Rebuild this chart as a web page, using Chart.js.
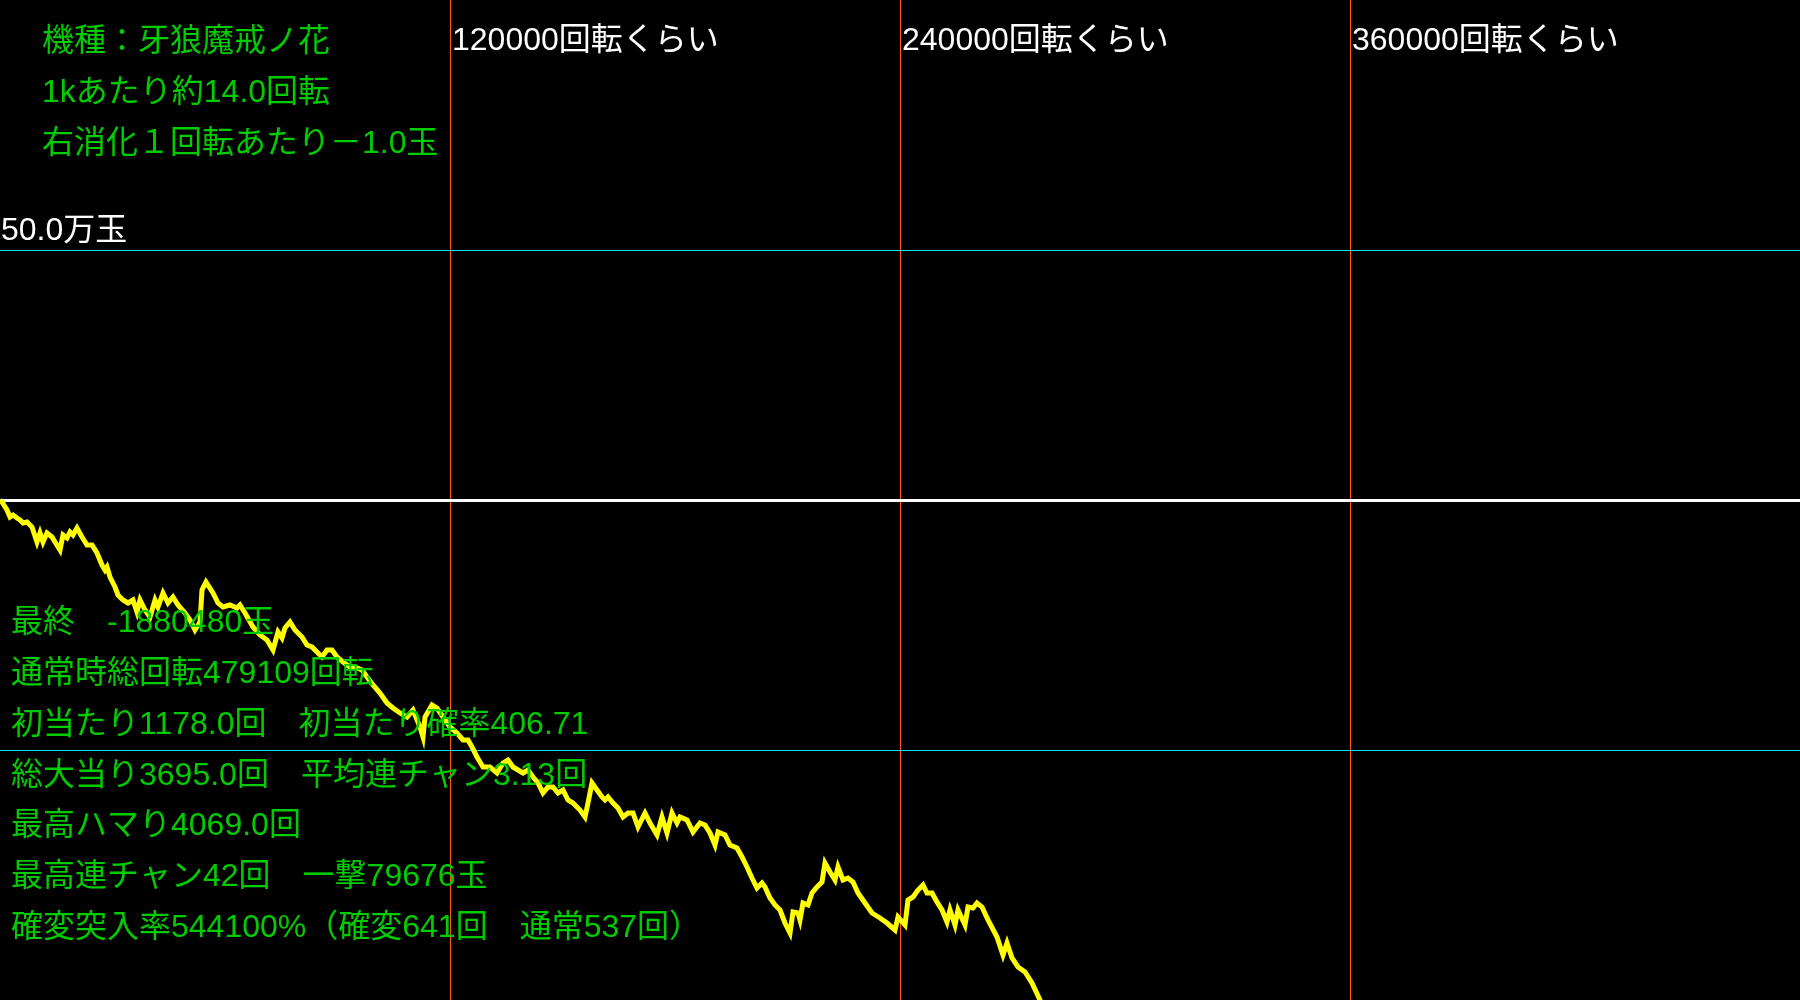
<!DOCTYPE html>
<html lang="ja">
<head>
<meta charset="utf-8">
<title>牙狼魔戒ノ花 シミュレーション</title>
<script src="https://cdn.jsdelivr.net/npm/chart.js@4.4.1/dist/chart.umd.min.js"></script>
<style>
  html, body { margin: 0; padding: 0; background: #000; overflow: hidden; }
  #chart { display: block; }
</style>
</head>
<body>
<canvas id="chart" width="1800" height="1000"></canvas>
<script>
// 通常時回転数 (x) と 差玉 (y)
const spins = [
  0, 533, 1867, 2667, 3467, 4533, 5333, 6133, 7200, 8533,
  9867, 10667, 11467, 12533, 13867, 14667, 16000, 16800, 17867, 18667,
  19467, 20533, 21867, 23200, 24533, 25867, 27200, 28000, 28533, 29333,
  30667, 31467, 32800, 34133, 35467, 36533, 37333, 38667, 40000, 41333,
  42133, 43467, 44800, 46133, 47467, 49333, 50667, 52000, 53333, 53867,
  54933, 56800, 58133, 59467, 61333, 63200, 64000, 65333, 67467, 69333,
  71200, 72800, 74133, 75200, 76000, 77333, 78667, 80533, 81867, 83200,
  84533, 85867, 87200, 88533, 89867, 91467, 93333, 95200, 96533, 97867,
  99467, 101333, 103200, 104800, 106667, 108533, 110133, 112000, 112800, 113333,
  115200, 116533, 118133, 120000, 121867, 123467, 124800, 125867, 127200, 128800,
  130667, 132533, 134133, 135467, 136800, 138133, 139467, 140800, 142133, 143467,
  144800, 146133, 147467, 148800, 150133, 151467, 152800, 154667, 156000, 156800,
  157867, 159200, 160533, 161333, 162133, 163467, 164800, 166133, 167467, 168800,
  170133, 172000, 173333, 175200, 176533, 177867, 179200, 180533, 181333, 183200,
  184800, 186667, 188000, 189333, 190667, 191467, 193333, 194667, 196533, 197867,
  199200, 200533, 201867, 203200, 204000, 205333, 206667, 208000, 209333, 210667,
  211467, 212800, 213333, 214133, 215467, 216533, 217867, 219200, 220000, 221333,
  222667, 223467, 224800, 226133, 227467, 228800, 230667, 232533, 234667, 236533,
  238667, 239467, 241333, 242133, 243467, 244800, 246133, 247200, 248533, 249867,
  251200, 252533, 253333, 254667, 255467, 257333, 258133, 259467, 260533, 261867,
  263467, 265867, 267467, 268533, 269867, 271467, 273333, 275200, 277333, 280000,
  479109
];
const balls = [
  0, -4000, -20000, -34000, -30000, -36000, -40000, -46000, -44000, -54000,
  -84000, -66000, -84000, -66000, -74000, -84000, -100000, -70000, -76000, -64000,
  -70000, -56000, -74000, -90000, -90000, -106000, -130000, -140000, -134000, -154000,
  -174000, -190000, -200000, -206000, -200000, -224000, -200000, -220000, -234000, -200000,
  -214000, -186000, -206000, -194000, -210000, -226000, -240000, -260000, -244000, -180000,
  -164000, -186000, -206000, -214000, -210000, -216000, -210000, -226000, -254000, -270000,
  -280000, -300000, -264000, -276000, -256000, -244000, -260000, -274000, -290000, -294000,
  -304000, -314000, -300000, -300000, -314000, -324000, -334000, -336000, -340000, -354000,
  -370000, -386000, -406000, -416000, -426000, -434000, -420000, -454000, -474000, -434000,
  -410000, -416000, -434000, -454000, -466000, -480000, -480000, -494000, -514000, -534000,
  -534000, -546000, -526000, -520000, -534000, -540000, -546000, -540000, -554000, -566000,
  -586000, -574000, -574000, -586000, -580000, -600000, -606000, -620000, -634000, -606000,
  -566000, -580000, -594000, -600000, -594000, -606000, -616000, -634000, -626000, -626000,
  -654000, -626000, -646000, -670000, -634000, -666000, -626000, -646000, -634000, -640000,
  -664000, -646000, -650000, -666000, -690000, -664000, -670000, -690000, -696000, -714000,
  -734000, -756000, -776000, -766000, -774000, -796000, -810000, -820000, -846000, -866000,
  -824000, -826000, -840000, -806000, -810000, -786000, -774000, -764000, -726000, -744000,
  -760000, -734000, -760000, -756000, -764000, -786000, -806000, -826000, -836000, -846000,
  -860000, -834000, -850000, -800000, -794000, -780000, -770000, -786000, -786000, -804000,
  -820000, -844000, -820000, -850000, -820000, -850000, -814000, -816000, -806000, -814000,
  -840000, -874000, -910000, -886000, -916000, -934000, -944000, -966000, -1000000, -1040000,
  -1880480
];

const spinMarks = [120000, 240000, 360000];
const ballMark = 500000;
const ballMarkLabel = '50.0万玉';
const headerLines = [
  '機種：牙狼魔戒ノ花',
  '1kあたり約14.0回転',
  '右消化１回転あたり－1.0玉'
];
const statLines = [
  '最終　-1880480玉',
  '通常時総回転479109回転',
  '初当たり1178.0回　初当たり確率406.71',
  '総大当り3695.0回　平均連チャン3.13回',
  '最高ハマり4069.0回',
  '最高連チャン42回　一撃79676玉',
  '確変突入率544100%（確変641回　通常537回）'
];

const FONT = '32px "Liberation Sans", "Noto Sans CJK JP", sans-serif';
const GREEN = '#00cc00';

const textPlugin = {
  id: 'texts',
  afterDraw(chart) {
    const ctx = chart.ctx;
    const xs = chart.scales.x;
    const ys = chart.scales.y;
    ctx.save();
    ctx.font = FONT;
    ctx.textBaseline = 'middle';
    ctx.textAlign = 'left';

    ctx.fillStyle = '#ffffff';
    spinMarks.forEach(v => {
      ctx.fillText(v + '回転くらい', xs.getPixelForValue(v) + 2, 41);
    });
    ctx.fillText(ballMarkLabel, 1, ys.getPixelForValue(ballMark) - 19);

    ctx.fillStyle = GREEN;
    headerLines.forEach((t, i) => ctx.fillText(t, 42, 42 + i * 51));
    statLines.forEach((t, i) => ctx.fillText(t, 11, 623 + i * 50.9));
    ctx.restore();
  }
};

new Chart(document.getElementById('chart'), {
  type: 'line',
  data: {
    datasets: [{
      data: spins.map((s, i) => ({ x: s, y: balls[i] })),
      borderColor: '#ffff00',
      borderWidth: 5,
      pointRadius: 0,
      tension: 0,
      fill: false
    }]
  },
  options: {
    responsive: false,
    animation: false,
    devicePixelRatio: 1,
    layout: { padding: 0 },
    plugins: {
      legend: { display: false },
      tooltip: { enabled: false }
    },
    scales: {
      x: {
        type: 'linear',
        min: 0,
        max: 480000,
        z: 1,
        border: { display: false },
        ticks: { display: false, stepSize: 120000 },
        grid: {
          drawTicks: false,
          lineWidth: 1,
          color: c => (c.tick && c.tick.value > 0 && c.tick.value < 480000) ? '#ff5a14' : 'rgba(0,0,0,0)'
        }
      },
      y: {
        min: -1000000,
        max: 1000000,
        border: { display: false },
        ticks: { display: false, stepSize: 500000 },
        grid: {
          drawTicks: false,
          lineWidth: c => (c.tick && c.tick.value === 0) ? 3 : 1,
          color: c => {
            if (!c.tick) return 'rgba(0,0,0,0)';
            const v = c.tick.value;
            if (v === 0) return '#ffffff';
            if (Math.abs(v) === 500000) return '#00e5e5';
            return 'rgba(0,0,0,0)';
          }
        }
      }
    }
  },
  plugins: [textPlugin]
});
</script>
</body>
</html>
